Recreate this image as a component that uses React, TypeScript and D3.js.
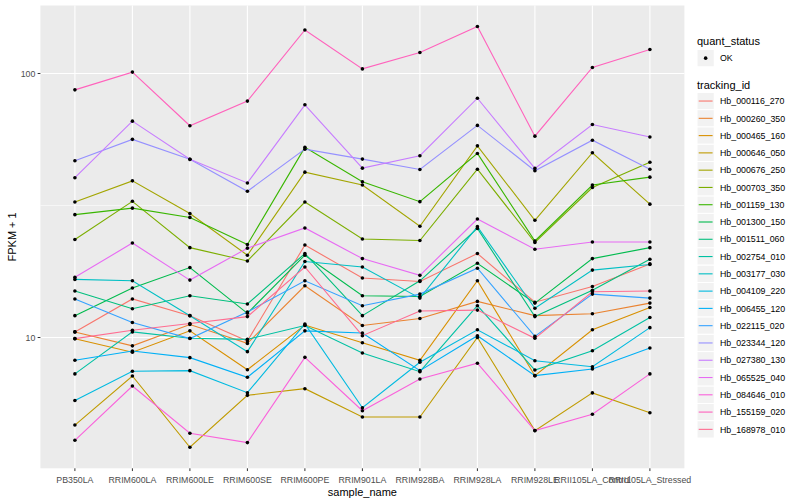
import React from 'react'
import * as d3 from 'd3'

// samples on the x axis
const samples = [
    'PB350LA', 'RRIM600LA', 'RRIM600LE', 'RRIM600SE', 'RRIM600PE', 'RRIM901LA',
    'RRIM928BA', 'RRIM928LA', 'RRIM928LE', 'RRII105LA_Control', 'RRII105LA_Stressed',
]

// FPKM + 1 per tracking id, one value per sample
const hb_000116_270 = [10.5, 14.0, 12.1, 9.7, 22.4, 16.8, 16.3, 20.8, 13.6, 15.6, 19.0]
const hb_000260_350 = [10.5, 9.3, 11.2, 9.5, 15.7, 11.1, 11.8, 13.7, 12.1, 12.3, 13.5]
const hb_000465_160 = [9.9, 8.8, 10.6, 7.55, 11.15, 9.56, 8.2, 16.4, 7.17, 10.7, 13.0]
const hb_000646_050 = [4.66, 7.15, 3.84, 6.04, 6.4, 5.0, 5.0, 10.0, 4.44, 6.17, 5.19]
const hb_000676_250 = [32.6, 39.2, 29.5, 20.5, 42.3, 37.8, 26.4, 53.2, 27.8, 50.1, 32.0]
const hb_000703_350 = [23.5, 32.8, 21.9, 19.5, 32.6, 23.6, 23.3, 43.4, 22.9, 37.0, 46.1]
const hb_001159_130 = [29.2, 30.9, 28.5, 22.5, 52.5, 38.9, 32.7, 49.8, 23.2, 37.8, 40.5]
const hb_001300_150 = [12.1, 15.4, 18.4, 12.35, 20.5, 14.4, 14.3, 19.1, 13.5, 19.9, 21.9]
const hb_001511_060 = [15.0, 12.85, 14.4, 13.4, 20.8, 12.1, 16.4, 25.9, 12.0, 15.1, 19.8]
const hb_002754_010 = [7.28, 10.5, 9.93, 9.84, 11.1, 8.74, 7.42, 13.2, 7.53, 8.91, 11.9]
const hb_003177_030 = [16.6, 16.4, 12.1, 8.84, 19.4, 18.5, 14.1, 26.3, 12.9, 18.0, 18.9]
const hb_004109_220 = [5.77, 7.45, 7.49, 6.18, 11.25, 5.42, 8.06, 10.7, 8.17, 7.75, 10.9]
const hb_006455_120 = [8.2, 8.89, 8.39, 7.07, 10.6, 10.4, 7.49, 10.16, 7.17, 7.6, 9.13]
const hb_022115_020 = [14.0, 11.4, 9.91, 12.5, 16.4, 13.2, 14.6, 18.3, 10.1, 14.6, 14.1]
const hb_023344_120 = [46.7, 56.3, 47.3, 35.8, 51.7, 47.4, 43.3, 63.6, 42.8, 55.9, 43.4]
const hb_027380_130 = [40.3, 66.0, 47.3, 38.5, 76.1, 43.8, 48.8, 80.6, 43.7, 64.1, 57.5]
const hb_065525_040 = [16.9, 22.8, 16.5, 21.8, 26.0, 19.9, 17.2, 28.1, 21.6, 23.0, 23.0]
const hb_084646_010 = [4.08, 6.55, 4.34, 4.0, 8.41, 5.28, 6.96, 7.99, 4.44, 5.12, 7.28]
const hb_155159_020 = [86.7, 101.2, 63.4, 78.6, 146.2, 104.1, 120.1, 150.6, 57.9, 105.4, 123.3]
const hb_168978_010 = [9.9, 10.66, 11.3, 12.0, 18.5, 10.16, 12.6, 12.7, 9.93, 14.9, 15.0]

const trackingIds = [
    'Hb_000116_270', 'Hb_000260_350', 'Hb_000465_160', 'Hb_000646_050', 'Hb_000676_250',
    'Hb_000703_350', 'Hb_001159_130', 'Hb_001300_150', 'Hb_001511_060', 'Hb_002754_010',
    'Hb_003177_030', 'Hb_004109_220', 'Hb_006455_120', 'Hb_022115_020', 'Hb_023344_120',
    'Hb_027380_130', 'Hb_065525_040', 'Hb_084646_010', 'Hb_155159_020', 'Hb_168978_010',
]

const seriesValues = [
    hb_000116_270, hb_000260_350, hb_000465_160, hb_000646_050, hb_000676_250,
    hb_000703_350, hb_001159_130, hb_001300_150, hb_001511_060, hb_002754_010,
    hb_003177_030, hb_004109_220, hb_006455_120, hb_022115_020, hb_023344_120,
    hb_027380_130, hb_065525_040, hb_084646_010, hb_155159_020, hb_168978_010,
]

// ggplot hue palette for 20 levels
const palette = [
    '#F8766D', '#EA8331', '#D89000', '#C09B00', '#A3A500', '#7CAE00', '#39B600',
    '#00BB4E', '#00BF7D', '#00C1A3', '#00BFC4', '#00BAE0', '#00B0F6', '#35A2FF',
    '#9590FF', '#C77CFF', '#E76BF3', '#FA62DB', '#FF62BC', '#FF6C91',
]

const yBreaks = [10, 100]
const statusLevels = ['OK']

const font = '"Liberation Sans", Arial, Helvetica, sans-serif'

const App: React.FC = () => {
    const width = 800
    const height = 500
    const panel = { left: 40.4, right: 684.4, top: 5.5, bottom: 468.3 }

    const x = d3.scalePoint<string>()
        .domain(samples)
        .range([panel.left, panel.right])
        .padding(0.6)

    // log10 scale with ggplot's 5% expansion in transformed space
    const all = seriesValues.flat()
    const lo = Math.log10(d3.min(all) as number)
    const hi = Math.log10(d3.max(all) as number)
    const pad = (hi - lo) * 0.05
    const y = d3.scaleLog()
        .domain([Math.pow(10, lo - pad), Math.pow(10, hi + pad)])
        .range([panel.bottom, panel.top])

    const [d0, d1] = y.domain()
    const minorBreaks = [0.5, 1.5, 2.5]
        .map(e => Math.pow(10, e))
        .filter(v => v >= d0 && v <= d1)

    const line = d3.line<number>()
        .x((_, i) => x(samples[i]) as number)
        .y(d => y(d))

    const keyLeft = 697
    const keySize = 17.28
    const labelX = 720
    const trackTop = 92.4

    return (
        <svg width={width} height={height} style={{ position: 'absolute', left: 0, top: 0, background: '#fff' }}
            fontFamily={font}>
            <rect x={panel.left} y={panel.top} width={panel.right - panel.left}
                height={panel.bottom - panel.top} fill="#EBEBEB" />

            {minorBreaks.map(v => (
                <line key={'mn' + v} x1={panel.left} x2={panel.right} y1={y(v)} y2={y(v)}
                    stroke="#fff" strokeWidth={0.55} />
            ))}
            {yBreaks.map(v => (
                <line key={'mj' + v} x1={panel.left} x2={panel.right} y1={y(v)} y2={y(v)}
                    stroke="#fff" strokeWidth={1.1} />
            ))}
            {samples.map(s => (
                <line key={'vx' + s} x1={x(s)} x2={x(s)} y1={panel.top} y2={panel.bottom}
                    stroke="#fff" strokeWidth={1.1} />
            ))}

            {seriesValues.map((vals, i) => (
                <path key={trackingIds[i]} d={line(vals) as string} fill="none"
                    stroke={palette[i]} strokeWidth={1.1} />
            ))}
            {seriesValues.map((vals, i) => (
                <g key={'pt' + trackingIds[i]}>
                    {vals.map((v, j) => (
                        <circle key={j} cx={x(samples[j])} cy={y(v)} r={1.8} fill="#000" />
                    ))}
                </g>
            ))}

            {/* y axis */}
            {yBreaks.map(v => (
                <g key={'yt' + v}>
                    <line x1={panel.left - 2.75} x2={panel.left} y1={y(v)} y2={y(v)} stroke="#333" strokeWidth={1} />
                    <text x={panel.left - 5} y={y(v) + 3.2} textAnchor="end" fontSize={8.8} fill="#4D4D4D">{v}</text>
                </g>
            ))}
            <text transform={`translate(16,${(panel.top + panel.bottom) / 2}) rotate(-90)`} textAnchor="middle"
                fontSize={11} fill="#000">FPKM + 1</text>

            {/* x axis */}
            {samples.map(s => (
                <g key={'xt' + s}>
                    <line x1={x(s)} x2={x(s)} y1={panel.bottom} y2={panel.bottom + 2.75} stroke="#333" strokeWidth={1} />
                    <text x={x(s)} y={panel.bottom + 14.5} textAnchor="middle" fontSize={8.8} fill="#4D4D4D">{s}</text>
                </g>
            ))}
            <text x={(panel.left + panel.right) / 2} y={496} textAnchor="middle" fontSize={11} fill="#000">sample_name</text>

            {/* legend: quant_status */}
            <text x={keyLeft} y={45} fontSize={11} fill="#000">quant_status</text>
            {statusLevels.map((s, i) => (
                <g key={s}>
                    <rect x={keyLeft} y={49.5 + i * keySize} width={keySize} height={keySize} fill="#F2F2F2" stroke="#fff" />
                    <circle cx={keyLeft + keySize / 2} cy={49.5 + i * keySize + keySize / 2} r={1.8} fill="#000" />
                    <text x={labelX} y={49.5 + i * keySize + keySize / 2 + 3.2} fontSize={8.8} fill="#000">{s}</text>
                </g>
            ))}

            {/* legend: tracking_id */}
            <text x={keyLeft} y={89} fontSize={11} fill="#000">tracking_id</text>
            {trackingIds.map((id, i) => {
                const top = trackTop + i * keySize
                const cy = top + keySize / 2
                return (
                    <g key={'lg' + id}>
                        <rect x={keyLeft} y={top} width={keySize} height={keySize} fill="#F2F2F2" stroke="#fff" />
                        <line x1={keyLeft + 1.7} x2={keyLeft + keySize - 1.7} y1={cy} y2={cy}
                            stroke={palette[i]} strokeWidth={1.1} />
                        <text x={labelX} y={cy + 3.2} fontSize={8.8} fill="#000">{id}</text>
                    </g>
                )
            })}
        </svg>
    )
}

export default App
